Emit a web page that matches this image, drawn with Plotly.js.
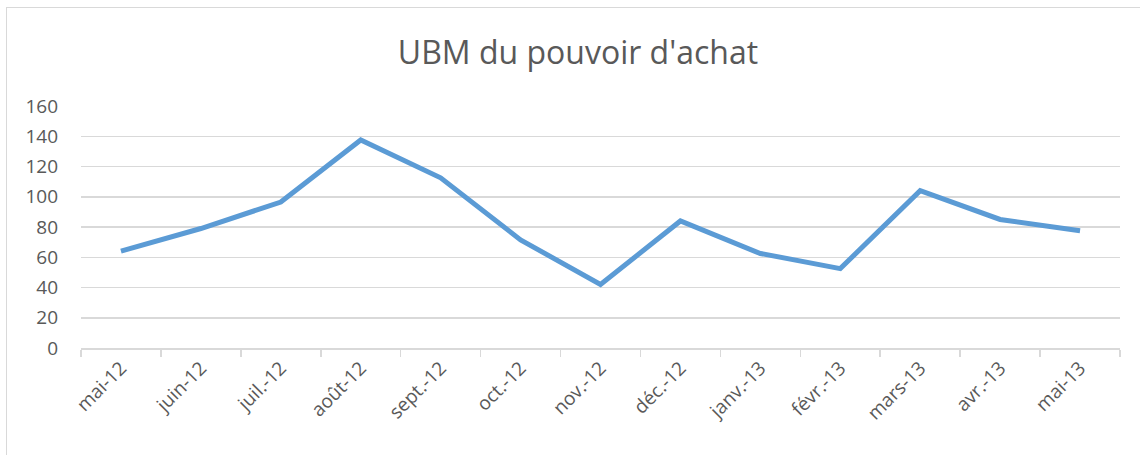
<!DOCTYPE html>
<html>
<head>
<meta charset="utf-8">
<script src="https://cdn.plot.ly/plotly-3.0.1.min.js"></script>
<style>
  html, body { margin: 0; padding: 0; background: #ffffff; }
  #wrap { position: relative; width: 1140px; height: 455px; overflow: hidden; }
  #frame { position: absolute; left: 6px; top: 7px; width: 1140px; height: 460px; border: 1.5px solid #d9d9d9; box-sizing: border-box; pointer-events: none; }
  #chart { position: absolute; left: 0; top: 0; width: 1140px; height: 455px; }
</style>
</head>
<body>
<div id="wrap">
  <div id="chart"></div>
  <div id="frame"></div>
</div>
<script>
const months = ["mai-12", "juin-12", "juil.-12", "août-12", "sept.-12", "oct.-12", "nov.-12",
                "déc.-12", "janv.-13", "févr.-13", "mars-13", "avr.-13", "mai-13"];
const ubmValues = [64, 79, 96.5, 137.5, 112.5, 71.5, 42, 84, 62.5, 52.5, 104, 85, 77.5];
const yTicks = [0, 20, 40, 60, 80, 100, 120, 140, 160];

const textColor = "#595959";
const fontFamily = "'Open Sans', 'Noto Sans', sans-serif";

const trace = {
  x: months,
  y: ubmValues,
  type: "scatter",
  mode: "lines",
  line: { color: "#5B9BD5", width: 5, shape: "linear" },
  hoverinfo: "x+y"
};

const layout = {
  width: 1140,
  height: 455,
  margin: { l: 81, r: 20, t: 106, b: 107 },
  paper_bgcolor: "#ffffff",
  plot_bgcolor: "#ffffff",
  showlegend: false,
  title: {
    text: "UBM du pouvoir d'achat",
    font: { family: fontFamily, size: 32, color: textColor },
    x: 0.507, xanchor: "center",
    y: 0.885, yanchor: "middle"
  },
  xaxis: {
    type: "category",
    range: [-0.5, months.length - 0.5],
    tickangle: -45,
    tickson: "boundaries",
    ticks: "outside",
    ticklen: 7,
    tickwidth: 1.5,
    tickcolor: "#d9d9d9",
    showline: true,
    linecolor: "#d9d9d9",
    linewidth: 1.5,
    showgrid: false,
    zeroline: false,
    tickfont: { family: fontFamily, size: 19, color: textColor },
    fixedrange: true
  },
  yaxis: {
    range: [0, 160],
    tickvals: yTicks,
    ticktext: yTicks.map(String),
    showgrid: true,
    gridcolor: "#d9d9d9",
    gridwidth: 1.5,
    zeroline: false,
    showline: false,
    ticks: "",
    ticklabelstandoff: 22,
    tickfont: { family: fontFamily, size: 19, color: textColor },
    fixedrange: true
  }
};

Plotly.newPlot("chart", [trace], layout, { displayModeBar: false, staticPlot: true });
</script>
</body>
</html>
